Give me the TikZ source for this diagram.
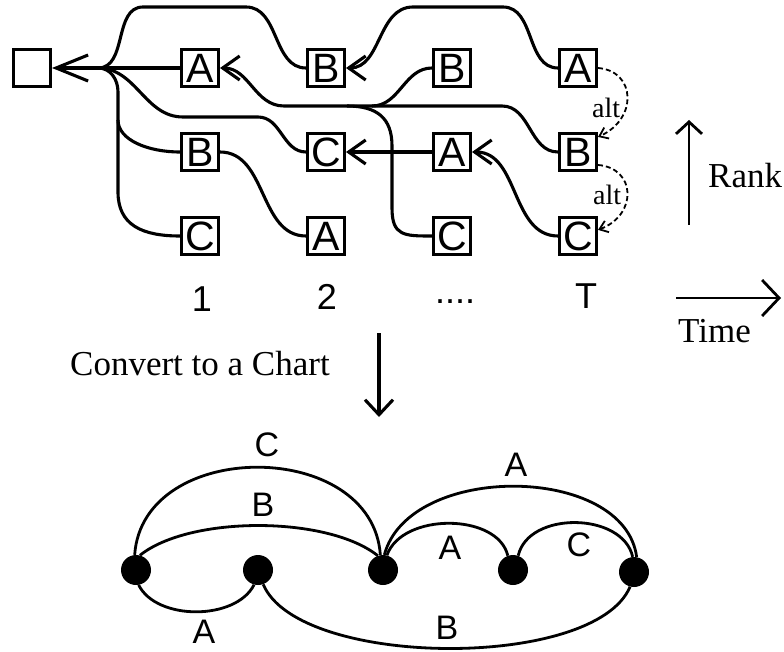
\documentclass[tikz,border=0pt]{standalone}
\usepackage{fontspec}
\setmainfont{Liberation Serif}
\newfontfamily\hv{Liberation Sans}
\usetikzlibrary{calc,positioning,arrows.meta}

\begin{document}
\begin{tikzpicture}[x=1pt,y=-1pt,
    box/.style={draw, line width=3pt, minimum size=37pt, inner sep=0pt, font=\hv\fontsize{41}{41}\selectfont},
    dot/.style={circle, fill, minimum size=30pt, inner sep=0pt},
    link/.style={line width=3.1pt},
    arc/.style={line width=2.8pt},
    lbl/.style={inner sep=0pt, font=\hv\fontsize{34}{34}\selectfont},
    num/.style={inner sep=0pt, anchor=base, font=\hv\fontsize{36}{36}\selectfont},
    txt/.style={inner sep=0pt, anchor=base west, font=\fontsize{35}{35}\selectfont},
    back/.style={{Straight Barb[length=17pt,width=24pt]}-},
    altarr/.style={-{Straight Barb[length=8pt,width=12pt]}, line width=1.8pt, dash pattern=on 5pt off 3pt}]
        \useasboundingbox (0,0) rectangle (784,652);
        \node[box] (L) at (32,68) {};
        \node[box, right of=L, node distance=168pt] (A1) {A};
        \node[box, below of=A1, node distance=84pt] (B1) {B};
        \node[box, below of=B1, node distance=84pt] (C1) {C};
        \node[box, right of=A1, node distance=126pt] (B2) {B};
        \node[box, right of=B1, node distance=126pt] (C2) {C};
        \node[box, right of=C1, node distance=126pt] (A2) {A};
        \node[box, right of=B2, node distance=126pt] (B3) {B};
        \node[box, right of=C2, node distance=126pt] (A3) {A};
        \node[box, right of=A2, node distance=126pt] (C3) {C};
        \node[box, right of=B3, node distance=126pt] (A4) {A};
        \node[box, right of=A3, node distance=126pt] (B4) {B};
        \node[box, right of=C3, node distance=126pt] (C4) {C};

        \coordinate (jn) at ($(L.east)+(46,0)$);
        \draw[link, {Straight Barb[length=32pt,width=26pt]}-] (L.east) -- (A1.west);
        \draw[link] (jn) to[out=0,in=180] ++(45,-61) -- ++(103,0) to[out=0,in=180] (B2.west);
        \draw[link] (jn) to[out=0,in=180] ++(85,49) -- ++(75,0) to[out=0,in=180] (C2.west);
        \draw[link] (jn) .. controls +(13,0) and +(0,-12) .. ++(20,24) -- ++(0,100) .. controls +(0,33) and +(-38,0) .. (C1.west);
        \draw[link] ($(jn)+(20,52)$) .. controls +(0,20) and +(-32,0) .. (B1.west);
        \draw[link] (B1.east) to[out=0,in=180] (A2.west);
        \draw[link, back] (A1.east) to[out=0,in=180] ++(64,38) -- ++(218,0) to[out=0,in=180] (B4.west);
        \draw[link] ($(A1.east)+(152,38)$) to[out=0,in=180] (B3.west);
        \draw[link] ($(A1.east)+(127,38)$) .. controls +(30,0) and +(0,-28) .. ++(45,40) -- ++(0,62) .. controls +(0,28) and +(-28,0) .. (C3.west);
        \draw[link, back] (B2.east) to[out=0,in=180] ++(67,-61) -- ++(90,0) to[out=0,in=180] (A4.west);
        \draw[link, back] (C2.east) -- (A3.west);
        \draw[link, back] (A3.east) to[out=0,in=180] (C4.west);

        \draw[altarr] (A4.east) .. controls +(38,3) and +(40,-18) .. (B4.37);
        \draw[altarr] (B4.-33) .. controls +(38,3) and +(40,-15) .. (C4.17);
        \node[inner sep=0pt, anchor=base west, font=\fontsize{28}{28}\selectfont] (alt1) at (592,118) {alt};
        \node[inner sep=0pt, anchor=base west, font=\fontsize{28}{28}\selectfont] (alt2) at (593,205) {alt};

        \node[num] (s1) at (202,311) {1};
        \node[num] (s2) at (327,309) {2};
        \node[num] (s3) at (455,303) {....};
        \node[num] (s4) at (586,308) {T};

        \coordinate (rk0) at (689,225);
        \coordinate (rk1) at (689,120);
        \draw[line width=2.8pt, -{Straight Barb[length=12pt,width=26pt]}] (rk0) -- (rk1);
        \node[txt] (rank) at (708,188) {Rank};
        \coordinate (tm0) at (676,298);
        \coordinate (tm1) at (781,298);
        \draw[line width=2.8pt, -{Straight Barb[length=17pt,width=36pt]}] (tm0) -- (tm1);
        \node[txt] (time) at (678,342) {Time};

        \node[txt] (conv) at (70,375) {Convert to a Chart};
        \coordinate (cv0) at (379,333);
        \coordinate (cv1) at (379,417);
        \draw[line width=3.1pt, -{Straight Barb[length=15pt,width=28pt]}] (cv0) -- (cv1);

        \node[dot] (n1) at (136,570) {};
        \node[dot, right of=n1, node distance=122pt] (n2) {};
        \node[dot, right of=n2, node distance=125pt] (n3) {};
        \node[dot, right of=n3, node distance=130pt] (n4) {};
        \node[dot, right of=n4, node distance=121pt, yshift=-2pt] (n5) {};

        \draw[arc] (n1.95) .. controls +(8,-117) and +(-8,-117) .. (n3.100);
        \draw[arc] (n1.75) .. controls +(50,-40) and +(-50,-40) .. (n3.110);
        \draw[arc] (n1.-80) .. controls +(18,36) and +(-18,36) .. (n2.-105);
        \draw[arc] (n2.-70) .. controls +(35,84) and +(-35,84) .. (n5.-105);
        \draw[arc] (n3.85) .. controls +(25,-93) and +(-12,-93) .. (n5.80);
        \draw[arc] (n3.75) .. controls +(15,-43) and +(-10,-43) .. (n4.110);
        \draw[arc] (n4.70) .. controls +(10,-45) and +(-10,-45) .. (n5.95);

        \node[lbl] (lc) at (267,445) {C};
        \node[lbl] (lb) at (263,505) {B};
        \node[lbl] (la) at (204,632) {A};
        \node[lbl] (lbb) at (447,628) {B};
        \node[lbl] (laa) at (516,465) {A};
        \node[lbl] (las) at (450,548) {A};
        \node[lbl] (lcs) at (579,545) {C};
\end{tikzpicture}
\end{document}
